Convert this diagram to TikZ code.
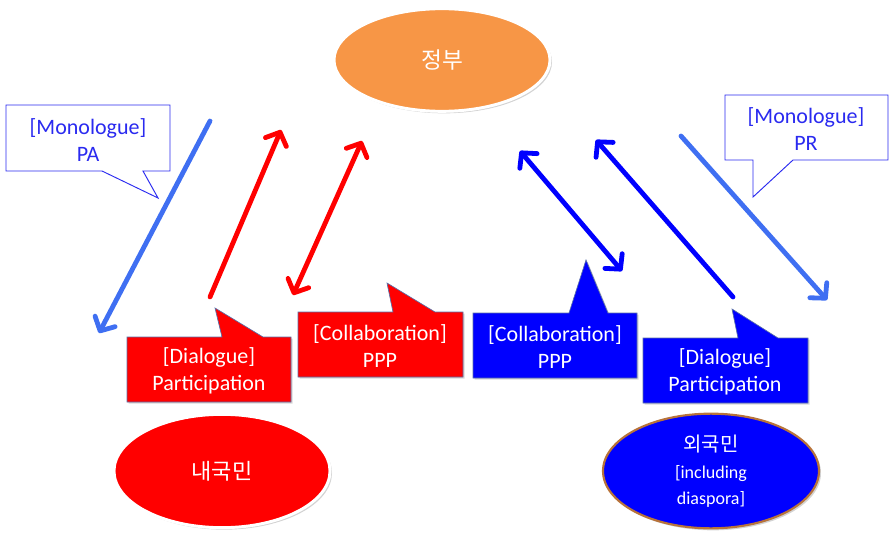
\documentclass[tikz,border=0pt]{standalone}
\usepackage{fontspec}
\setmainfont{Carlito}
\newfontfamily\kr{Noto Sans CJK KR}
\usetikzlibrary{arrows.meta,shadows,shapes.geometric}
\definecolor{gorange}{HTML}{F79646}
\definecolor{gred}{HTML}{FF0000}
\definecolor{gblue}{HTML}{0000FF}
\definecolor{lblue}{HTML}{3F6FF2}
\definecolor{mono}{HTML}{2A2AF0}
\definecolor{calloutedge}{HTML}{5A6FA8}
\definecolor{brownedge}{HTML}{B8733A}
\begin{document}
\begin{tikzpicture}[x=0.75pt,y=-0.75pt,
  blob/.style={ellipse,line width=2.2pt,draw=white,drop shadow={shadow xshift=1.5pt,shadow yshift=-1.5pt,opacity=0.35},inner sep=0pt},
  calltext/.style={align=center,font=\fontsize{16.5}{20}\selectfont,inner sep=0pt},
  monoshape/.style={draw=mono,line width=0.7pt,fill=white},
  redshape/.style={draw=calloutedge,line width=0.5pt,fill=gred,drop shadow={shadow xshift=1.2pt,shadow yshift=-1.2pt,opacity=0.3}},
  blueshape/.style={draw=calloutedge,line width=0.5pt,fill=gblue,drop shadow={shadow xshift=1.2pt,shadow yshift=-1.2pt,opacity=0.3}},
  conn/.style={line width=3.6pt,line cap=round,line join=round},
  headend/.style={-{Straight Barb[length=8pt,width=17pt,line cap=round,line join=round]}},
  headboth/.style={{Straight Barb[length=8pt,width=17pt,line cap=round,line join=round]}-{Straight Barb[length=8pt,width=17pt,line cap=round,line join=round]}}
]
\useasboundingbox (0,0) rectangle (889,535);

% ellipses
\node[blob,fill=gorange,minimum width=162pt,minimum height=77pt,text=white] (gov) at (442,60) {\kr\fontsize{17}{20}\selectfont 정부};
\node[blob,fill=gred,minimum width=162pt,minimum height=85pt,text=white] (dom) at (222,471) {\kr\fontsize{16.5}{20}\selectfont 내국민};
\node[blob,fill=gblue,draw=brownedge,line width=1.6pt,minimum width=162pt,minimum height=86pt,text=white,align=center,font=\fontsize{13.5}{17.5}\selectfont] (for) at (711,471) {{\kr\fontsize{15}{18}\selectfont 외국민}\\[3pt][including\\[2pt]diaspora]};

% monologue callouts
\path[monoshape] (6,105) -- (170,105) -- (170,171) -- (143,171) -- (158,198) -- (102,171) -- (6,171) -- cycle;
\node[calltext,text=mono] (pa) at (88,140) {[Monologue]\\PA};
\path[monoshape] (725,95) -- (888,95) -- (888,160) -- (793,160) -- (753,197) -- (753,160) -- (725,160) -- cycle;
\node[calltext,text=mono] (pr) at (806,129) {[Monologue]\\PR};

% red callouts
\path[redshape] (127,337) -- (222,337) -- (215,308) -- (263,337) -- (291,337) -- (291,402) -- (127,402) -- cycle;
\node[calltext,text=white] (dialr) at (209,371) {[Dialogue]\\Participation};
\path[redshape] (298,312) -- (393,312) -- (387,283) -- (435,312) -- (463,312) -- (463,377) -- (298,377) -- cycle;
\node[calltext,text=white] (collr) at (380,346) {[Collaboration]\\PPP};

% blue callouts
\path[blueshape] (473,313) -- (569,313) -- (586,260) -- (608,313) -- (637,313) -- (637,378) -- (473,378) -- cycle;
\node[calltext,text=white] (collb) at (555,347) {[Collaboration]\\PPP};
\path[blueshape] (643,338) -- (738,338) -- (732,309) -- (778,338) -- (808,338) -- (808,403) -- (643,403) -- cycle;
\node[calltext,text=white] (dialb) at (725,372) {[Dialogue]\\Participation};

% arrow end points
\coordinate (a1s) at (210,121);
\coordinate (a1e) at (99,333);
\coordinate (a2s) at (210,297);
\coordinate (a2e) at (281,130);
\coordinate (a3s) at (293,295);
\coordinate (a3e) at (362,141);
\coordinate (a4s) at (520,151);
\coordinate (a4e) at (622,271);
\coordinate (a5s) at (733,297);
\coordinate (a5e) at (596,140);
\coordinate (a6s) at (681,136);
\coordinate (a6e) at (827,300);

\draw[conn,lblue,headend] (a1s) -- (a1e);
\draw[conn,gred,headend] (a2s) -- (a2e);
\draw[conn,gred,headboth] (a3s) -- (a3e);
\draw[conn,gblue,headboth] (a4s) -- (a4e);
\draw[conn,gblue,headend] (a5s) -- (a5e);
\draw[conn,lblue,headend] (a6s) -- (a6e);
\end{tikzpicture}
\end{document}
